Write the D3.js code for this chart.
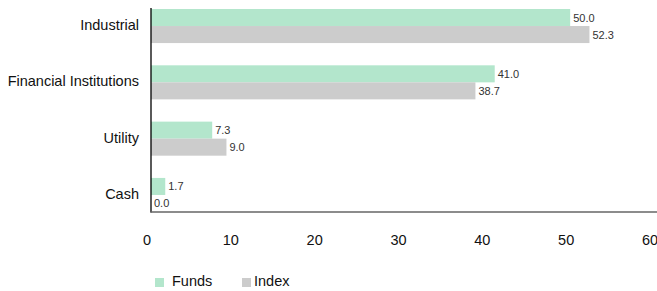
<!DOCTYPE html>
<html><head><meta charset="utf-8">
<script src="https://cdn.jsdelivr.net/npm/d3@7"></script>
<style>body{margin:0;background:#fff}svg{display:block;font-family:"Liberation Sans",Arial,sans-serif}</style>
</head><body><svg id="c" width="657" height="291"></svg>
<script>
const categories = ["Industrial","Financial Institutions","Utility","Cash"];
const funds = [50.0, 41.0, 7.3, 1.7];
const index = [52.3, 38.7, 9.0, 0.0];
const xTicks = [0,10,20,30,40,50,60];
const seriesNames = ["Funds","Index"];
const colors = ["#b3e6cc","#cccccc"];

const svg = d3.select("#c");
const x = d3.scaleLinear().domain([0,60]).range([151,654]);
const y = d3.scaleBand().domain(categories).range([9,212]).paddingInner(0.395).paddingOuter(0);
const sub = d3.scaleBand().domain(seriesNames).range([0,y.bandwidth()]);

const data = categories.map((c,i)=>({c, vals:[funds[i], index[i]]}));
const g = svg.selectAll("g.grp").data(data).join("g").attr("transform",d=>`translate(0,${y(d.c)})`);
g.selectAll("rect").data(d=>d.vals.map((v,k)=>({v,k}))).join("rect")
  .attr("x",x(0)).attr("y",d=>sub(seriesNames[d.k]))
  .attr("width",d=>x(d.v)-x(0)).attr("height",sub.bandwidth())
  .attr("fill",d=>colors[d.k]);
g.selectAll("text").data(d=>d.vals.map((v,k)=>({v,k}))).join("text")
  .attr("x",d=>x(d.v)+3).attr("y",d=>sub(seriesNames[d.k])+sub.bandwidth()/2+4)
  .attr("font-size","11px").attr("fill","#333").text(d=>d.v.toFixed(1));

// category labels
svg.selectAll("text.cat").data(categories).join("text").attr("class","cat")
  .attr("x",139).attr("y",d=>y(d)+y.bandwidth()/2+4)
  .attr("text-anchor","end").attr("font-size","14.5px").attr("fill","#111").text(d=>d);

// axes lines
svg.append("line").attr("x1",151).attr("x2",151).attr("y1",8).attr("y2",212.5).attr("stroke","#000").attr("stroke-width",1.3);
svg.append("line").attr("x1",150.5).attr("x2",657).attr("y1",212).attr("y2",212).attr("stroke","#666").attr("stroke-width",1.3);

// x tick labels
svg.selectAll("text.tick").data(xTicks).join("text").attr("class","tick")
  .attr("x",d=>x(d)-4).attr("y",245).attr("text-anchor","middle")
  .attr("font-size","14.5px").attr("fill","#111").text(d=>d);

// legend
const lx = [155, 242];
seriesNames.forEach((s,i)=>{
  svg.append("rect").attr("x",lx[i]).attr("y",278).attr("width",9).attr("height",9).attr("fill",colors[i]);
  svg.append("text").attr("x",lx[i]+(i===0?17:12)).attr("y",286).attr("font-size","14.5px").attr("fill","#111").text(s);
});
</script></body></html>
